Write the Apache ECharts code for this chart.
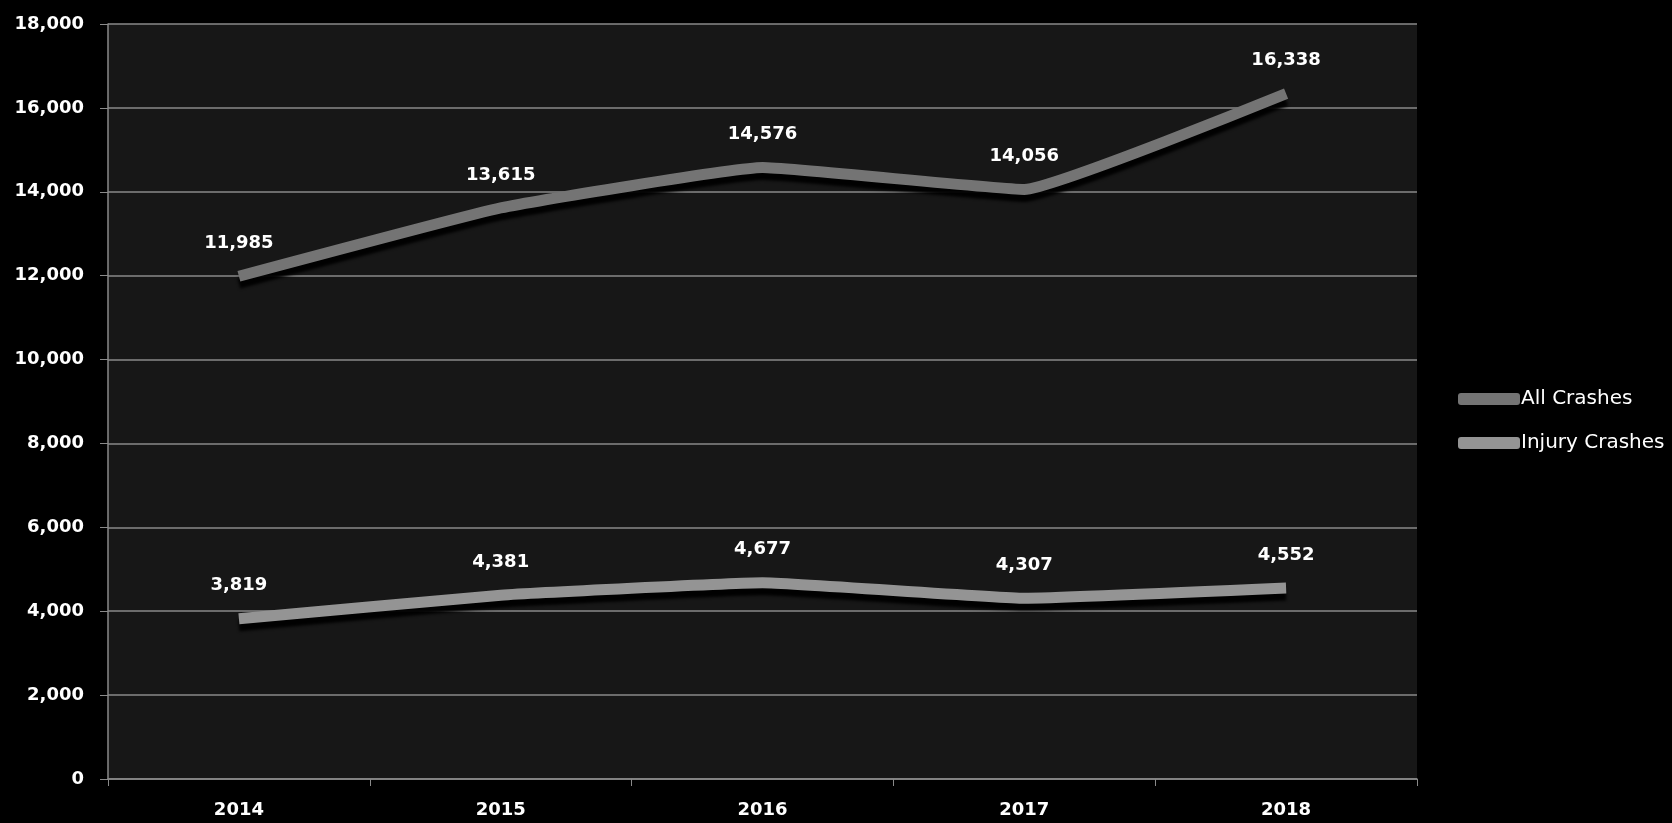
<!DOCTYPE html>
<html>
<head>
<meta charset="utf-8">
<script src="https://cdn.jsdelivr.net/npm/echarts@6/dist/echarts.min.js"></script>
<style>
html,body{margin:0;padding:0;background:#000;}
#chart{width:1672px;height:823px;}
</style>
</head>
<body>
<div id="chart"></div>
<script>
const years = ['2014', '2015', '2016', '2017', '2018'];
const allCrashes = [11985, 13615, 14576, 14056, 16338];
const injuryCrashes = [3819, 4381, 4677, 4307, 4552];
const yMin = 0, yMax = 18000, yStep = 2000;

const chart = echarts.init(document.getElementById('chart'));
const labelFont = {color: '#ffffff', fontFamily: 'DejaVu Sans', fontWeight: 'bold', fontSize: 18};
function lineSeries(name, data, color) {
  return {
    name: name, type: 'line', data: data, smooth: 0.1,
    showSymbol: true, symbol: 'circle', symbolSize: 0,
    lineStyle: {color: color, width: 11, cap: 'butt',
      shadowColor: 'rgba(0,0,0,0.95)', shadowBlur: 3, shadowOffsetY: 7},
    itemStyle: {color: color},
    label: Object.assign({show: true, position: 'top', distance: 24,
      formatter: p => p.value.toLocaleString('en-US')}, labelFont),
    emphasis: {disabled: true}
  };
}
chart.setOption({
  backgroundColor: '#000000',
  animation: false,
  grid: {left: 108, right: 255, top: 24, bottom: 44, show: true,
    backgroundColor: '#171717', borderWidth: 0},
  legend: {
    orient: 'vertical', left: 1453, top: 384, itemGap: 24,
    itemWidth: 62, itemHeight: 12, icon: 'roundRect',
    textStyle: {color: '#ffffff', fontFamily: 'DejaVu Sans', fontSize: 20, padding: [0,0,0,-4]},
    data: ['All Crashes', 'Injury Crashes']
  },
  xAxis: {
    type: 'category', data: years, boundaryGap: true,
    axisLine: {show: true, lineStyle: {color: '#8a8a8a', width: 1.5}},
    axisTick: {show: true, length: 7, lineStyle: {color: '#8a8a8a'}},
    axisLabel: Object.assign({margin: 22}, labelFont),
    splitLine: {show: false}
  },
  yAxis: {
    type: 'value', min: yMin, max: yMax, interval: yStep,
    axisLine: {show: true, lineStyle: {color: '#8a8a8a', width: 1.5}},
    axisTick: {show: true, length: 8, lineStyle: {color: '#8a8a8a'}},
    axisLabel: Object.assign({margin: 24, formatter: v => v.toLocaleString('en-US')}, labelFont),
    splitLine: {show: true, lineStyle: {color: '#8a8a8a', width: 1.5}}
  },
  series: [
    lineSeries('All Crashes', allCrashes, '#747474'),
    lineSeries('Injury Crashes', injuryCrashes, '#949494')
  ]
});
</script>
</body>
</html>
